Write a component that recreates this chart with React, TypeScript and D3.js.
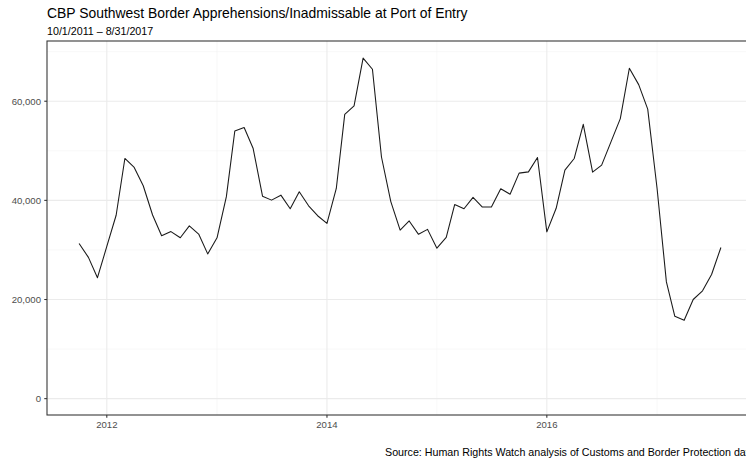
import * as d3 from "d3";

// monthly totals, Oct 2011 .. Aug 2017
const startMonth = new Date(2011, 9, 1);
const counts: number[] = [
  31300, 28500, 24400, 30700, 37000, 48450, 46650, 42950, 37050, 32850, 33700, 32450,
  34850, 33200, 29200, 32450, 40750, 54000, 54700, 50450, 40850, 40050, 41050, 38300,
  41750, 38900, 36900, 35350, 42400, 57350, 59050, 68700, 66450, 48750, 39750, 34000,
  35850, 33150, 34150, 30350, 32550, 39150, 38300, 40600, 38650, 38650, 42350, 41250,
  45500, 45750, 48650, 33650, 38400, 46100, 48450, 55350, 45700, 47100, 51800, 56500,
  66650, 63350, 58400, 42450, 23550, 16600, 15800, 20000, 21750, 25050, 30500,
];
const yMajor = [0, 20000, 40000, 60000];
const yMinor = [10000, 30000, 50000, 70000];
const xMajor = [2012, 2014, 2016];
const xMinor = [2013, 2015, 2017];

const title = "CBP Southwest Border Apprehensions/Inadmissable at Port of Entry";
const subtitle = "10/1/2011 \u2013 8/31/2017";
const caption = "Source: Human Rights Watch analysis of Customs and Border Protection data";

const W = 746;
const H = 458;
const panel = { left: 47, right: 753, top: 41, bottom: 415 };
const font = "'Liberation Sans', Arial, Helvetica, sans-serif";

export default function App() {
  const data = counts.map((v, i) => ({ date: d3.timeMonth.offset(startMonth, i), value: v }));

  // ggplot style 5% expansion on x
  const ext = d3.extent(data, (d) => d.date) as [Date, Date];
  const pad = (+ext[1] - +ext[0]) * 0.05;
  const x = d3
    .scaleTime()
    .domain([new Date(+ext[0] - pad), new Date(+ext[1] + pad)])
    .range([panel.left, panel.right]);
  const y = d3.scaleLinear().domain([-3300, 72150]).range([panel.bottom, panel.top]);

  const line = d3
    .line<{ date: Date; value: number }>()
    .x((d) => x(d.date))
    .y((d) => y(d.value));

  const fmt = d3.format(",");
  const yr = (n: number) => x(new Date(n, 0, 1));

  return (
    <svg
      width={W}
      height={H}
      style={{ position: "absolute", left: 0, top: 0, background: "#fff" }}
      fontFamily={font}
    >
      <rect x={0} y={0} width={W} height={H} fill="#fff" />
      <text x={47} y={18.3} fontSize={13.9} fill="#000">
        {title}
      </text>
      <text x={47} y={35} fontSize={10.7} fill="#000">
        {subtitle}
      </text>

      {/* grid */}
      <g fill="none">
        {yMinor.map((v) => (
          <line key={"ym" + v} x1={panel.left} x2={panel.right} y1={y(v)} y2={y(v)} stroke="#F2F2F2" strokeWidth={0.55} />
        ))}
        {xMinor.map((v) => (
          <line key={"xm" + v} x1={yr(v)} x2={yr(v)} y1={panel.top} y2={panel.bottom} stroke="#F2F2F2" strokeWidth={0.55} />
        ))}
        {yMajor.map((v) => (
          <line key={"yM" + v} x1={panel.left} x2={panel.right} y1={y(v)} y2={y(v)} stroke="#EBEBEB" strokeWidth={1.07} />
        ))}
        {xMajor.map((v) => (
          <line key={"xM" + v} x1={yr(v)} x2={yr(v)} y1={panel.top} y2={panel.bottom} stroke="#EBEBEB" strokeWidth={1.07} />
        ))}
      </g>

      <path d={line(data) ?? ""} fill="none" stroke="#1a1a1a" strokeWidth={1.07} strokeLinejoin="round" />

      <rect
        x={panel.left}
        y={panel.top}
        width={panel.right - panel.left}
        height={panel.bottom - panel.top}
        fill="none"
        stroke="#333333"
        strokeWidth={1.07}
      />

      {/* axes */}
      <g fontSize={9.6} fill="#4D4D4D">
        {yMajor.map((v) => (
          <g key={"yt" + v}>
            <line x1={panel.left - 2.75} x2={panel.left} y1={y(v)} y2={y(v)} stroke="#333333" strokeWidth={1.07} />
            <text x={panel.left - 6} y={y(v)} dy="0.35em" textAnchor="end">
              {fmt(v)}
            </text>
          </g>
        ))}
        {xMajor.map((v) => (
          <g key={"xt" + v}>
            <line x1={yr(v)} x2={yr(v)} y1={panel.bottom} y2={panel.bottom + 2.75} stroke="#333333" strokeWidth={1.07} />
            <text x={yr(v)} y={428} textAnchor="middle">
              {v}
            </text>
          </g>
        ))}
      </g>

      <text x={385} y={456} fontSize={10.7} fill="#000">
        {caption}
      </text>
    </svg>
  );
}
